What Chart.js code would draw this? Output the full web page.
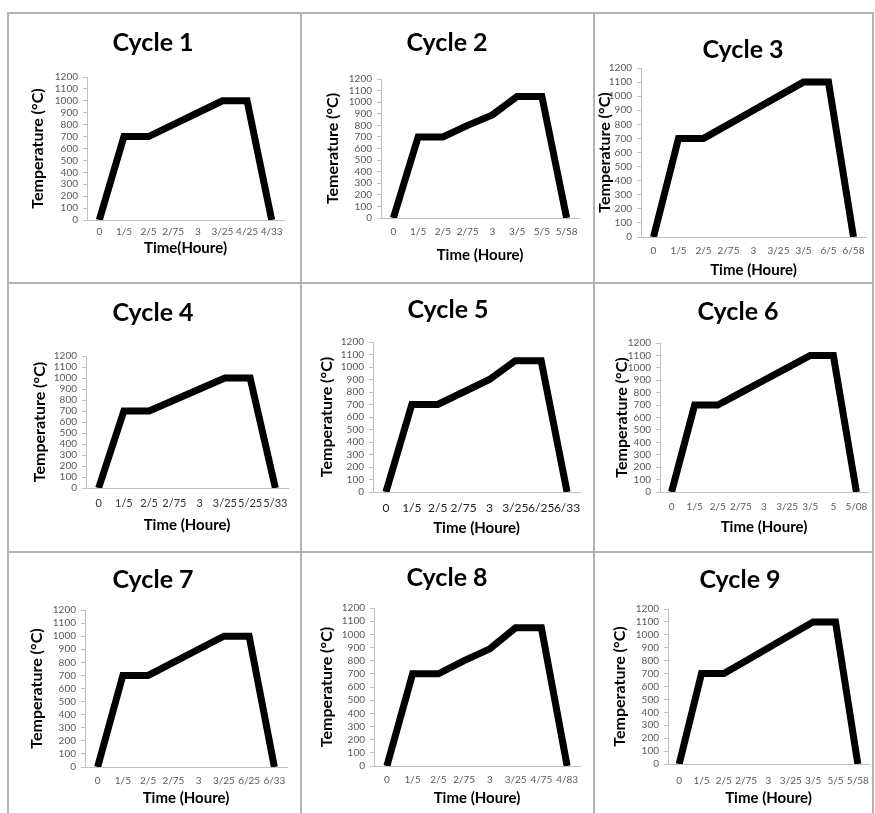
<!DOCTYPE html>
<html><head><meta charset="utf-8">
<script src="https://cdn.jsdelivr.net/npm/chart.js@4.4.0/dist/chart.umd.min.js"></script>
<style>
html,body{margin:0;padding:0;background:#fff;width:875px;height:813px;overflow:hidden;position:relative;}
.ln{position:absolute;background:#b3b3b3;}
.cv{position:absolute;}
</style></head><body>
<div class="ln" style="left:7px;top:12px;width:867px;height:2px"></div>
<div class="ln" style="left:7px;top:12px;width:2px;height:801px"></div>
<div class="ln" style="left:300px;top:12px;width:2px;height:801px"></div>
<div class="ln" style="left:593px;top:12px;width:2px;height:801px"></div>
<div class="ln" style="left:872px;top:12px;width:2px;height:801px"></div>
<div class="ln" style="left:7px;top:282px;width:867px;height:2px"></div>
<div class="ln" style="left:7px;top:551px;width:867px;height:2px"></div>
<script>
const cycleTitles = ['Cycle 1','Cycle 2','Cycle 3','Cycle 4','Cycle 5','Cycle 6','Cycle 7','Cycle 8','Cycle 9'];
const yTitles = ['Temperature (°C)','Temerature (°C)','Temperature (°C)','Temperature (°C)','Temperature (°C)','Temperature (°C)','Temperature (°C)','Temperature (°C)','Temperature (°C)'];
const xTitles = ['Time(Houre)','Time (Houre)','Time (Houre)','Time (Houre)','Time (Houre)','Time (Houre)','Time (Houre)','Time (Houre)','Time (Houre)'];

const labels1 = ['0','1/5','2/5','2/75','3','3/25','4/25','4/33'];
const temps1  = [0,700,700,800,900,1000,1000,0];
const labels2 = ['0','1/5','2/5','2/75','3','3/5','5/5','5/58'];
const temps2  = [0,700,700,800,890,1050,1050,0];
const labels3 = ['0','1/5','2/5','2/75','3','3/25','3/5','6/5','6/58'];
const temps3  = [0,700,700,800,900,1000,1100,1100,0];
const labels4 = ['0','1/5','2/5','2/75','3','3/25','5/25','5/33'];
const temps4  = [0,700,700,800,900,1000,1000,0];
const labels5 = ['0','1/5','2/5','2/75','3','3/25','6/25','6/33'];
const temps5  = [0,700,700,800,900,1050,1050,0];
const labels6 = ['0','1/5','2/5','2/75','3','3/25','3/5','5','5/08'];
const temps6  = [0,700,700,800,900,1000,1100,1100,0];
const labels7 = ['0','1/5','2/5','2/75','3','3/25','6/25','6/33'];
const temps7  = [0,700,700,800,900,1000,1000,0];
const labels8 = ['0','1/5','2/5','2/75','3','3/25','4/75','4/83'];
const temps8  = [0,700,700,800,890,1050,1050,0];
const labels9 = ['0','1/5','2/5','2/75','3','3/25','3/5','5/5','5/58'];
const temps9  = [0,700,700,800,900,1000,1100,1100,0];

const yMin = 0, yMax = 1200, yStep = 100;

const allLabels = [labels1,labels2,labels3,labels4,labels5,labels6,labels7,labels8,labels9];
const allTemps = [temps1,temps2,temps3,temps4,temps5,temps6,temps7,temps8,temps9];

// layout (page pixel positions of each panel's plot area, titles)
const panels = [
 {px:8,   py:13,  L:87,  T:77,  R:284, B:220, tx:153, ty:43,  xty:232, xly:248, ylx:38,  xfs:10, xfc:'#595959'},
 {px:301, py:13,  L:381, T:79,  R:579, B:218, tx:447, ty:43,  xty:232, xly:255, ylx:333, xfs:10, xfc:'#595959'},
 {px:594, py:13,  L:641, T:68,  R:866, B:237, tx:743, ty:50,  xty:251, xly:270, ylx:605, xfs:10, xfc:'#595959'},
 {px:8,   py:283, L:86,  T:356, R:288, B:488, tx:153, ty:313, xty:503, xly:525, ylx:40,  xfs:11, xfc:'#333333'},
 {px:301, py:283, L:373, T:342, R:580, B:492, tx:448, ty:310, xty:508, xly:528, ylx:327, xfs:12, xfc:'#222222'},
 {px:594, py:283, L:660, T:343, R:868, B:492, tx:738, ty:312, xty:507, xly:527, ylx:622, xfs:10, xfc:'#595959'},
 {px:8,   py:552, L:85,  T:610, R:287, B:767, tx:153, ty:580, xty:781, xly:798, ylx:37,  xfs:10, xfc:'#595959'},
 {px:301, py:552, L:374, T:608, R:580, B:766, tx:447, ty:578, xty:780, xly:798, ylx:327, xfs:10, xfc:'#595959'},
 {px:594, py:552, L:668, T:609, R:869, B:764, tx:740, ty:580, xty:781, xly:798, ylx:620, xfs:10, xfc:'#595959'}
];

const FONT = 'Lato, "Open Sans", sans-serif';
const TITLE_SIZE = 25, TITLE_LH = 30;
const YT_SIZE = 16, YT_LH = 16*1.2;
const XT_SIZE = 15, XT_LH = 15*1.2;

panels.forEach((p, i) => {
  const cw = 2*(p.tx - p.px);
  const ch = p.xly - p.py + 14;
  const cv = document.createElement('canvas');
  cv.className = 'cv';
  cv.style.left = p.px + 'px'; cv.style.top = p.py + 'px';
  cv.style.width = cw + 'px'; cv.style.height = ch + 'px';
  cv.width = cw; cv.height = ch;
  document.body.appendChild(cv);
  new Chart(cv, {
    type: 'line',
    data: {
      labels: allLabels[i],
      datasets: [{
        data: allTemps[i], borderColor: '#000', backgroundColor: '#000',
        borderWidth: 7, pointRadius: 0, tension: 0, fill: false,
        borderJoinStyle: 'miter', borderCapStyle: 'butt', yAxisID: 'y'
      }]
    },
    options: {
      responsive: false, animation: false, devicePixelRatio: 1,
      layout: { padding: 0 },
      plugins: {
        legend: { display: false }, tooltip: { enabled: false },
        title: {
          display: true, text: cycleTitles[i], color: '#000',
          font: { family: FONT, size: TITLE_SIZE, weight: 'bold', lineHeight: 1.2 },
          padding: { top: p.ty - p.py - TITLE_LH/2, bottom: p.T - p.ty - TITLE_LH/2 }
        }
      },
      scales: {
        x: {
          type: 'category', offset: true,
          grid: { display: false, drawTicks: false },
          border: { display: true, color: '#c0c0c0', width: 1 },
          ticks: { autoSkip: false, maxRotation: 0, minRotation: 0, padding: p.xty - p.B - p.xfs*0.6,
                   color: p.xfc, font: { family: FONT, size: p.xfs } },
          title: { display: true, text: xTitles[i], color: '#000',
                   font: { family: FONT, size: XT_SIZE, weight: 'bold', lineHeight: 1.2 },
                   padding: { top: 0, bottom: ch - (p.xly - p.py) - XT_LH/2 } },
          afterFit(s) { s.height = ch - (p.B - p.py); }
        },
        y: {
          type: 'linear', position: 'left', min: yMin, max: yMax,
          grid: { display: true, drawOnChartArea: false, drawTicks: true, tickLength: 4, color: '#c0c0c0' },
          border: { display: true, color: '#c0c0c0', width: 1 },
          ticks: { stepSize: yStep, autoSkip: false, padding: 5, color: '#595959',
                   font: { family: FONT, size: 10 },
                   callback: (v) => String(v) },
          title: { display: true, text: yTitles[i], color: '#000',
                   font: { family: FONT, size: YT_SIZE, weight: 'bold', lineHeight: 1.2 },
                   padding: { top: Math.max(0, p.ylx - p.px - YT_LH/2), bottom: 0 } },
          afterFit(s) { s.width = p.L - p.px; }
        },
        y2: {
          type: 'linear', position: 'right',
          grid: { display: false }, border: { display: false }, ticks: { display: false },
          afterFit(s) { s.width = cw - (p.R - p.px); }
        }
      }
    }
  });
});
</script>
</body></html>
